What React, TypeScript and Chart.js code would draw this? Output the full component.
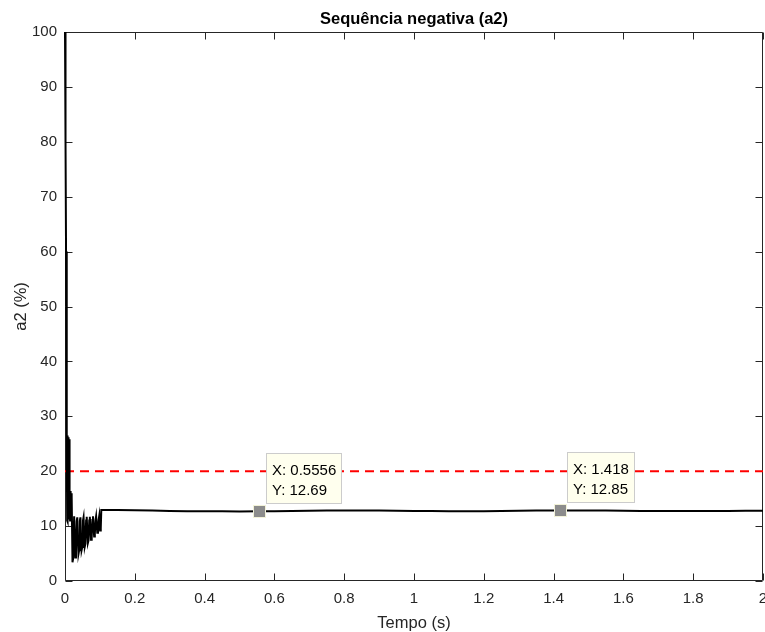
import React, { useEffect, useRef } from "react";
import { Chart, registerables } from "chart.js";

Chart.register(...registerables);

// ---------- data ----------
const timeS = [
  0, 0.0015, 0.003, 0.0045, 0.0055, 0.0062, 0.007, 0.0078, 0.0086, 0.0094,
  0.0102, 0.011, 0.0118, 0.0126, 0.0136, 0.0146, 0.0156, 0.0166, 0.0176, 0.0186,
  0.0196, 0.0215, 0.0235, 0.0262,
  0.0295, 0.0315, 0.0335, 0.0352,
  0.0385, 0.0405, 0.0425, 0.0442,
  0.0475, 0.0495, 0.0515, 0.0532,
  0.0565, 0.0585, 0.0605, 0.0622,
  0.0655, 0.0675, 0.0695, 0.0712,
  0.0745, 0.0765, 0.0785, 0.0802,
  0.0835, 0.0855, 0.0875, 0.0892,
  0.0925, 0.0945, 0.0965, 0.0982,
  0.1005, 0.1025, 0.104,
  0.15, 0.2, 0.25, 0.3, 0.35, 0.4, 0.45, 0.5, 0.5556, 0.6, 0.65, 0.7, 0.75,
  0.8, 0.85, 0.9, 0.95, 1.0, 1.05, 1.1, 1.15, 1.2, 1.25, 1.3, 1.35, 1.418,
  1.45, 1.5, 1.55, 1.6, 1.65, 1.7, 1.75, 1.8, 1.85, 1.9, 1.95, 2.0,
];
const a2Pct = [
  100, 80, 60, 40, 27, 11, 26.5, 10.8, 26.2, 11.2,
  26, 11.5, 25.8, 11.8, 16.5, 11, 16.4, 11.3, 16, 12.5,
  15.5, 3.4, 4.2, 11.8,
  4.3, 5.0, 10.9, 11.6,
  4.9, 5.6, 10.9, 11.6,
  5.6, 6.2, 11.0, 11.6,
  6.2, 6.8, 11.0, 11.7,
  6.9, 7.4, 11.0, 11.7,
  7.5, 8.0, 11.1, 11.8,
  8.1, 8.6, 11.1, 11.8,
  8.8, 9.2, 11.2, 11.9,
  9.2, 9.6, 12.95,
  12.92, 12.88, 12.82, 12.76, 12.72, 12.7, 12.69, 12.68, 12.69, 12.7, 12.74, 12.79, 12.82,
  12.84, 12.84, 12.82, 12.79, 12.76, 12.73, 12.71, 12.71, 12.72, 12.75, 12.79, 12.82, 12.85,
  12.85, 12.84, 12.82, 12.79, 12.76, 12.74, 12.73, 12.73, 12.74, 12.76, 12.78, 12.8,
];
const limitTime = [0, 2];
const limitPct = [20, 20];

const xTicks = [0, 0.2, 0.4, 0.6, 0.8, 1, 1.2, 1.4, 1.6, 1.8, 2];
const xTickLabels = ["0", "0.2", "0.4", "0.6", "0.8", "1", "1.2", "1.4", "1.6", "1.8", "2"];
const yTicks = [0, 10, 20, 30, 40, 50, 60, 70, 80, 90, 100];
const yTickLabels = ["0", "10", "20", "30", "40", "50", "60", "70", "80", "90", "100"];

const tipX = [0.5556, 1.418];
const tipY = [12.69, 12.85];
const tipLabels = [
  ["X: 0.5556", "Y: 12.69"],
  ["X: 1.418", "Y: 12.85"],
];

const titleText = "Sequência negativa (a2)";
const xLabel = "Tempo (s)";
const yLabel = "a2 (%)";

// ---------- styling ----------
const FONT = '"Liberation Sans", Arial, Helvetica, sans-serif';
const AX = "#262626";

const matlabPlugin = {
  id: "matlabLook",
  beforeDatasetsDraw(chart: any) {
    const ctx = chart.ctx as CanvasRenderingContext2D;
    const { left, right, top, bottom } = chart.chartArea;
    const xs = chart.scales.x;
    const ys = chart.scales.y;
    const L = Math.round(left) + 0.5;
    const R = Math.round(right) - 0.5;
    const T = Math.round(top) + 0.5;
    const B = Math.round(bottom) - 0.5;
    const tl = 7;
    ctx.save();
    ctx.strokeStyle = AX;
    ctx.lineWidth = 1;
    ctx.beginPath();
    ctx.rect(L, T, R - L, B - T);
    xTicks.forEach((v) => {
      const px = Math.round(xs.getPixelForValue(v)) + 0.5;
      ctx.moveTo(px, B);
      ctx.lineTo(px, B - tl);
      ctx.moveTo(px, T);
      ctx.lineTo(px, T + tl);
    });
    yTicks.forEach((v) => {
      const py = Math.round(ys.getPixelForValue(v)) + 0.5;
      ctx.moveTo(L, py);
      ctx.lineTo(L + tl, py);
      ctx.moveTo(R, py);
      ctx.lineTo(R - tl, py);
    });
    ctx.stroke();
    ctx.restore();
  },
  afterDatasetsDraw(chart: any) {
    const ctx = chart.ctx as CanvasRenderingContext2D;
    const xs = chart.scales.x;
    const ys = chart.scales.y;
    ctx.save();
    tipX.forEach((tx, i) => {
      const px = xs.getPixelForValue(tx);
      const py = ys.getPixelForValue(tipY[i]);
      // marker
      ctx.fillStyle = "#8c8c8c";
      ctx.fillRect(Math.round(px) - 5, Math.round(py) - 5, 11, 11);
      ctx.strokeStyle = "#f2f2d8";
      ctx.lineWidth = 1;
      ctx.strokeRect(Math.round(px) - 5.5, Math.round(py) - 5.5, 12, 12);
      // box
      ctx.font = `15px ${FONT}`;
      const tw = Math.max(...tipLabels[i].map((s) => ctx.measureText(s).width));
      const w = Math.round(tw + 11);
      const bx = Math.round(px + 7) + 0.5;
      const by = Math.round(py - 58) + 0.5;
      const bh = 50;
      ctx.fillStyle = "#ffffee";
      ctx.fillRect(bx, by, w, bh);
      ctx.strokeStyle = "#cccccc";
      ctx.strokeRect(bx, by, w, bh);
      ctx.fillStyle = "#000000";
      ctx.textAlign = "left";
      ctx.textBaseline = "alphabetic";
      ctx.fillText(tipLabels[i][0], bx + 5.5, by + 21.5);
      ctx.fillText(tipLabels[i][1], bx + 5.5, by + 41.5);
    });
    ctx.restore();
  },
  afterDraw(chart: any) {
    const ctx = chart.ctx as CanvasRenderingContext2D;
    const { left, right, top, bottom } = chart.chartArea;
    ctx.save();
    // title
    ctx.fillStyle = "#000000";
    ctx.textAlign = "center";
    ctx.textBaseline = "alphabetic";
    ctx.font = `bold 16.5px ${FONT}`;
    ctx.fillText(titleText, (left + right) / 2, 24);

    // x label
    ctx.fillStyle = AX;
    ctx.font = `16.5px ${FONT}`;
    ctx.fillText(xLabel, (left + right) / 2, 628);

    // y label
    ctx.translate(26, (top + bottom) / 2);
    ctx.rotate(-Math.PI / 2);
    ctx.fillText(yLabel, 0, 0);
    ctx.restore();
  },
};

export default function App() {
  const ref = useRef<HTMLCanvasElement>(null);

  useEffect(() => {
    const canvas = ref.current;
    if (!canvas) return;
    const mainData = timeS.map((t, i) => ({ x: t, y: a2Pct[i] }));
    const limitData = limitTime.map((t, i) => ({ x: t, y: limitPct[i] }));

    const chart = new Chart(canvas, {
      type: "line",
      data: {
        datasets: [
          {
            label: "a2",
            data: mainData,
            borderColor: "#000000",
            borderWidth: 2,
            pointRadius: 0,
            tension: 0,
            fill: false,
            clip: 1.5,
          },
          {
            label: "limite",
            data: limitData,
            borderColor: "#ff0000",
            borderWidth: 2,
            borderDash: [9, 6],
            pointRadius: 0,
            tension: 0,
            fill: false,
            clip: 0,
          },
        ],
      },
      options: {
        responsive: false,
        devicePixelRatio: 1,
        animation: false,
        events: [],
        layout: { padding: { top: 32, right: 2, left: 0, bottom: 0 } },
        plugins: {
          legend: { display: false },
          title: { display: false },
          tooltip: { enabled: false },
        },
        scales: {
          x: {
            type: "linear",
            min: 0,
            max: 2,
            grid: { display: false, drawTicks: false },
            border: { display: false },
            afterBuildTicks: (s: any) => {
              s.ticks = xTicks.map((v) => ({ value: v }));
            },
            afterFit: (s: any) => {
              s.height = 51;
              s.paddingLeft = 0;
              s.paddingRight = 0;
            },
            ticks: {
              autoSkip: false,
              maxRotation: 0,
              minRotation: 0,
              padding: 9,
              color: AX,
              font: { family: FONT, size: 15 },
              callback: (_v: any, i: number) => xTickLabels[i],
            },
          },
          y: {
            type: "linear",
            min: 0,
            max: 100,
            grid: { display: false, drawTicks: false },
            border: { display: false },
            afterBuildTicks: (s: any) => {
              s.ticks = yTicks.map((v) => ({ value: v }));
            },
            afterFit: (s: any) => {
              s.width = 65;
              s.paddingTop = 0;
              s.paddingBottom = 0;
            },
            ticks: {
              autoSkip: false,
              padding: 8,
              color: AX,
              font: { family: FONT, size: 15 },
              callback: (_v: any, i: number) => yTickLabels[i],
            },
          },
        },
      },
      plugins: [matlabPlugin],
    } as any);

    return () => chart.destroy();
  }, []);

  return (
    <div
      style={{
        position: "absolute",
        left: 0,
        top: 0,
        width: 765,
        height: 632,
        background: "#ffffff",
      }}
    >
      <canvas
        ref={ref}
        width={765}
        height={632}
        style={{ display: "block", width: 765, height: 632 }}
      />
    </div>
  );
}
